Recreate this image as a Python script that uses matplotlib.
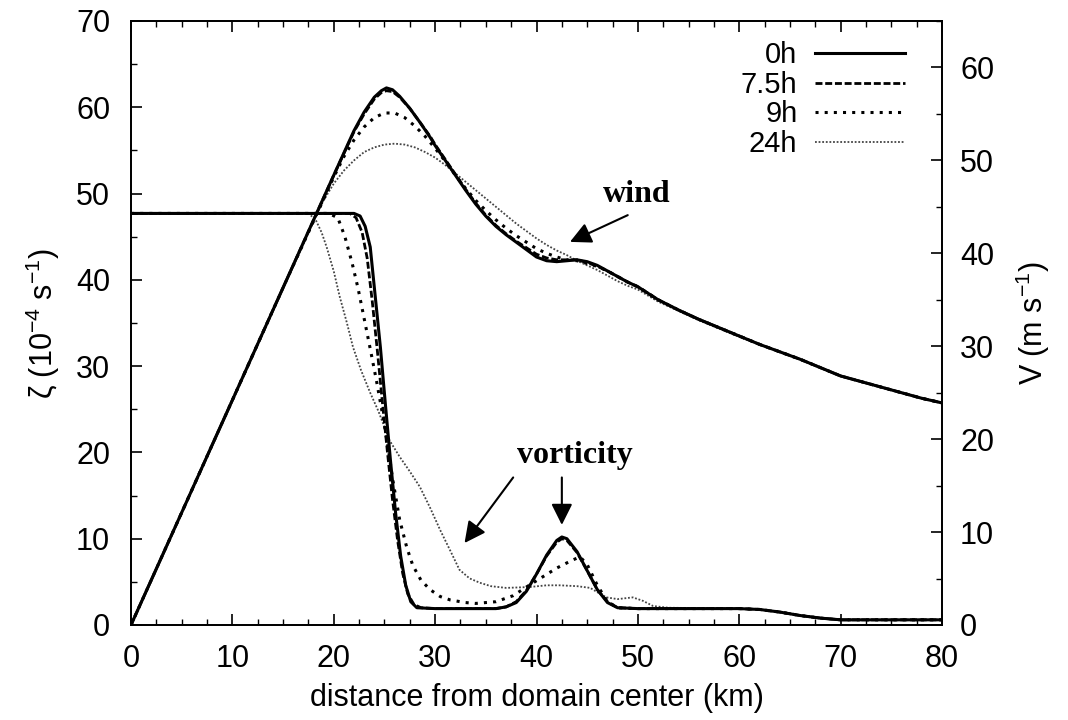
import matplotlib
matplotlib.use('Agg')
import matplotlib.pyplot as plt
from matplotlib.ticker import MultipleLocator

plt.rcParams['font.family'] = ['Liberation Sans', 'DejaVu Sans']
plt.rcParams['mathtext.fontset'] = 'custom'
plt.rcParams['mathtext.rm'] = 'Liberation Sans'
plt.rcParams['mathtext.it'] = 'Liberation Sans:italic'

labels = ['0h', '7.5h', '9h', '24h']

# tangential wind V (m/s) against radius (km)
wind_x_0h = [0, 5, 10, 15, 20, 22, 23, 24, 24.7, 25.2, 25.8, 26.5, 27.5, 28.5, 29.5,
             30, 31, 32, 33, 34, 35, 36, 37, 38, 39, 40, 41, 42, 43, 44, 45, 46, 47,
             48, 49, 50, 52, 54, 56, 58, 60, 62, 64, 66, 68, 70, 72, 74, 76, 78, 80]
wind_v_0h = [0, 12.1, 24.2, 36.3, 48.4, 53.2, 55.2, 56.8, 57.5, 57.8, 57.6, 56.9, 55.6,
             54.1, 52.5, 51.6, 50.0, 48.4, 46.8, 45.3, 44.0, 42.9, 42.0, 41.2, 40.4,
             39.6, 39.2, 39.1, 39.2, 39.3, 39.1, 38.7, 38.1, 37.5, 36.9, 36.4, 35.0,
             33.9, 32.9, 32.0, 31.1, 30.2, 29.4, 28.6, 27.7, 26.8, 26.2, 25.6, 25.0,
             24.4, 23.9]

wind_x_75h = [0, 5, 10, 15, 20, 22, 23, 24, 24.7, 25.2, 25.8, 26.5, 27.5, 28.5, 29.5,
              30, 31, 32, 33, 34, 35, 36, 37, 38, 39, 40, 41, 42, 43, 44, 45, 46, 47,
              48, 49, 50, 52, 54, 56, 58, 60, 62, 64, 66, 68, 70, 72, 74, 76, 78, 80]
wind_v_75h = [0, 12.1, 24.2, 36.3, 48.4, 53.1, 55.0, 56.6, 57.3, 57.5, 57.4, 56.8, 55.6,
              54.1, 52.6, 51.7, 50.1, 48.5, 46.9, 45.4, 44.1, 43.0, 42.1, 41.3, 40.6,
              39.9, 39.5, 39.3, 39.3, 39.3, 39.0, 38.6, 38.1, 37.5, 36.9, 36.4, 35.0,
              33.9, 32.9, 32.0, 31.1, 30.2, 29.4, 28.6, 27.7, 26.8, 26.2, 25.6, 25.0,
              24.4, 23.9]

wind_x_9h = [0, 5, 10, 15, 20, 21, 22, 23, 24, 25, 26, 27, 28, 29, 30, 31, 32, 33, 34,
             35, 36, 37, 38, 39, 40, 41, 42, 43, 44, 45, 46, 47, 48, 49, 50, 52, 54, 56,
             58, 60, 62, 64, 66, 68, 70, 72, 74, 76, 78, 80]
wind_v_9h = [0, 12.1, 24.2, 36.3, 48.2, 50.4, 52.2, 53.6, 54.6, 55.1, 55.1, 54.6, 53.7,
             52.6, 51.3, 49.9, 48.4, 47.0, 45.7, 44.6, 43.6, 42.7, 41.9, 41.2, 40.5,
             40.0, 39.6, 39.3, 39.2, 38.9, 38.6, 38.1, 37.5, 36.9, 36.4, 35.0, 33.9,
             32.9, 32.0, 31.1, 30.2, 29.4, 28.6, 27.7, 26.8, 26.2, 25.6, 25.0, 24.4, 23.9]

wind_x_24h = [0, 5, 10, 15, 18, 19, 20, 21, 22, 23, 24, 25, 26, 27, 28, 29, 30, 31, 32,
              33, 34, 35, 36, 37, 38, 39, 40, 41, 42, 43, 44, 45, 46, 47, 48, 49, 50, 52,
              54, 56, 58, 60, 62, 64, 66, 68, 70, 72, 74, 76, 78, 80]
wind_v_24h = [0, 12.1, 24.2, 36.3, 43.5, 45.7, 47.5, 48.9, 50.0, 50.9, 51.4, 51.7, 51.8,
              51.7, 51.4, 50.9, 50.3, 49.5, 48.6, 47.7, 46.8, 45.9, 45.0, 44.1, 43.2,
              42.4, 41.6, 40.9, 40.3, 39.8, 39.2, 38.7, 38.2, 37.6, 37.0, 36.5, 36.1,
              34.8, 33.8, 32.8, 31.9, 31.0, 30.2, 29.4, 28.6, 27.7, 26.8, 26.2, 25.6,
              25.0, 24.4, 23.9]

# relative vorticity (1e-4 1/s) against radius (km)
vort_x_0h = [0, 22, 22.6, 23.1, 23.6, 24.1, 24.6, 25.1, 25.6, 26.1, 26.6, 27.1, 27.6,
             28.2, 30, 36, 37, 38, 39, 40, 41, 42, 42.5, 43, 44, 45, 46, 47, 48, 50,
             60, 62, 64, 66, 68, 70, 80]
vort_z_0h = [47.7, 47.7, 47.4, 46.2, 43.8, 38.0, 32.2, 25.5, 19.0, 13.0, 8.0, 4.6, 2.7,
             2.0, 1.9, 1.9, 2.1, 2.6, 3.9, 5.9, 8.1, 9.8, 10.2, 10.0, 8.5, 6.3, 4.1, 2.6,
             2.0, 1.9, 1.9, 1.8, 1.5, 1.1, 0.8, 0.6, 0.6]

vort_x_75h = [0, 21.6, 22.2, 22.8, 23.3, 23.8, 24.3, 24.8, 25.3, 25.8, 26.3, 26.8, 27.3,
              27.9, 28.6, 30, 36, 37, 38, 39, 40, 41, 42, 42.5, 43, 44, 45, 46, 47, 48,
              50, 60, 62, 64, 66, 68, 70, 80]
vort_z_75h = [47.7, 47.7, 47.2, 45.5, 42.5, 37.5, 31.8, 25.8, 20.0, 14.5, 9.8, 6.0, 3.6,
              2.4, 2.0, 1.9, 1.9, 2.1, 2.7, 4.0, 5.9, 8.0, 9.6, 10.0, 9.8, 8.4, 6.3, 4.1,
              2.7, 2.0, 1.9, 1.9, 1.8, 1.5, 1.1, 0.8, 0.6, 0.6]

vort_x_9h = [0, 19.5, 20.4, 21.1, 21.8, 22.4, 22.9, 23.6, 24.2, 24.8, 25.3, 25.8, 26.5,
             27.2, 27.8, 28.6, 29.5, 30.5, 31.5, 33, 34, 36, 37.7, 39, 40.5, 42, 43.5,
             44.3, 45, 46, 47, 48, 50, 60, 62, 64, 66, 68, 70, 80]
vort_z_9h = [47.7, 47.7, 47.2, 45.0, 42.0, 39.0, 36.1, 32.0, 28.4, 24.5, 21.0, 17.0,
             12.2, 9.0, 6.9, 5.2, 4.1, 3.3, 2.9, 2.6, 2.5, 2.7, 3.4, 4.4, 5.5, 6.6, 7.5,
             7.9, 7.0, 4.6, 2.7, 2.0, 1.9, 1.9, 1.8, 1.5, 1.1, 0.8, 0.6, 0.6]

vort_x_24h = [0, 17.5, 18.2, 18.8, 19.3, 20, 20.6, 21.3, 21.9, 22.7, 23.6, 24.4, 25.5,
              26.5, 27.5, 28.5, 29.5, 30.5, 31.5, 32.4, 33.4, 34.4, 35.5, 37, 39.3, 41,
              42.3, 44, 45.3, 46, 46.9, 48, 49.5, 50.5, 51.5, 53, 60, 62, 64, 66, 68,
              70, 80]
vort_z_24h = [47.7, 47.7, 47.0, 45.5, 43.8, 41.0, 38.0, 35.0, 32.2, 29.5, 26.9, 24.8,
              21.4, 19.5, 17.8, 16.0, 13.6, 11.0, 8.6, 6.4, 5.4, 4.9, 4.5, 4.3, 4.4,
              4.6, 4.6, 4.5, 4.3, 3.8, 3.2, 3.0, 3.2, 2.8, 2.2, 2.0, 1.9, 1.8, 1.5, 1.1,
              0.8, 0.6, 0.6]

styles = [
    dict(color='black', lw=2.2, linestyle='-'),
    dict(color='black', lw=2.0, linestyle=(0, (2.5, 1))),
    dict(color='black', lw=2.2, linestyle=(0, (1, 2))),
    dict(color='#444444', lw=1.3, linestyle=(0, (1, 1))),
]

fig = plt.figure(figsize=(10.68, 7.2), dpi=100)
ax = fig.add_axes([131 / 1068, 1 - 625 / 720, 811 / 1068, 604 / 720])
ax2 = ax.twinx()

vort = [(vort_x_0h, vort_z_0h), (vort_x_75h, vort_z_75h),
        (vort_x_9h, vort_z_9h), (vort_x_24h, vort_z_24h)]
wind = [(wind_x_0h, wind_v_0h), (wind_x_75h, wind_v_75h),
        (wind_x_9h, wind_v_9h), (wind_x_24h, wind_v_24h)]

handles = []
for i in [3, 2, 1, 0]:
    ax.plot(*vort[i], **styles[i], solid_capstyle='butt')
    h, = ax2.plot(*wind[i], **styles[i], label=labels[i])
    handles.append(h)
handles = handles[::-1]

ax.set_xlim(0, 80)
ax.set_ylim(0, 70)
ax2.set_ylim(0, 65)

ax.xaxis.set_major_locator(MultipleLocator(10))
ax.xaxis.set_minor_locator(MultipleLocator(2.5))
ax.yaxis.set_major_locator(MultipleLocator(10))
ax.yaxis.set_minor_locator(MultipleLocator(5))
ax2.yaxis.set_major_locator(MultipleLocator(10))
ax2.yaxis.set_minor_locator(MultipleLocator(5))

ax.tick_params(axis='x', which='both', direction='in', top=True, bottom=True,
               labelsize=22, pad=14)
ax.tick_params(axis='y', which='both', direction='in', left=True, right=False,
               labelsize=22, pad=15)
ax2.tick_params(axis='y', which='both', direction='in', right=True, left=False,
                labelsize=22, pad=13)
for a in (ax, ax2):
    a.tick_params(which='major', length=8, width=1.2)
    a.tick_params(which='minor', length=4, width=1.0)
    for s in a.spines.values():
        s.set_linewidth(1.3)

ax.set_xlabel('distance from domain center (km)', fontsize=22, labelpad=6)
ax.set_ylabel(r'ζ (10$^{-4}$ s$^{-1}$)', fontsize=22, labelpad=10)
ax2.set_ylabel(r'V (m s$^{-1}$)', fontsize=22, labelpad=14)

ax2.legend(handles=handles, loc='upper right', bbox_to_anchor=(0.98, 1.0),
           frameon=False, markerfirst=False, fontsize=21, handlelength=3.1,
           handletextpad=0.6, labelspacing=0.05, borderaxespad=0.3)

serif = dict(family='Liberation Serif', weight='bold', fontsize=23)
arrow = dict(arrowstyle='-|>', color='black', lw=1.5, mutation_scale=32,
             shrinkA=0, shrinkB=0)
ax.text(49.9, 49.9, 'wind', ha='center', va='center', **serif)
ax.annotate('', xy=(43.3, 44.4), xytext=(49.0, 47.5), arrowprops=arrow)
ax.text(43.8, 19.7, 'vorticity', ha='center', va='center', **serif)
ax.annotate('', xy=(32.9, 9.5), xytext=(37.7, 17.1), arrowprops=arrow)
ax.annotate('', xy=(42.5, 11.6), xytext=(42.5, 17.1), arrowprops=arrow)

fig.savefig('out.png', dpi=100)
